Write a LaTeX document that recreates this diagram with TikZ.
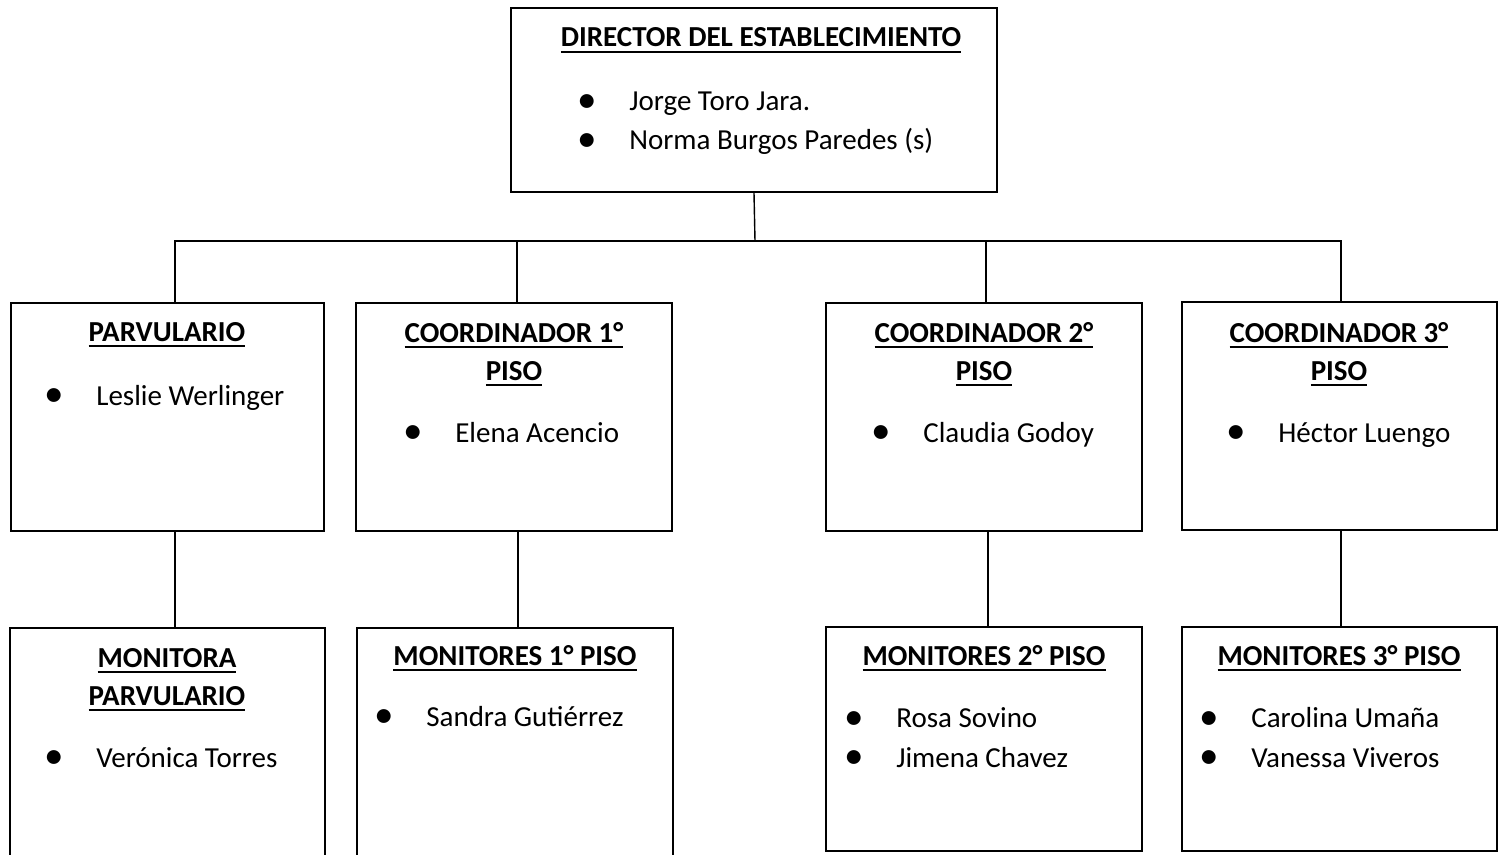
\documentclass[tikz,border=0pt]{standalone}
\usepackage{fontspec}
\usepackage{graphicx}
\setmainfont{Carlito}
\usetikzlibrary{fit,calc}
\newsavebox{\cajatxt}
\newcommand{\subr}[1]{\sbox{\cajatxt}{#1}\rlap{\rule[-3.4pt]{\wd\cajatxt}{1pt}}\usebox{\cajatxt}}
\newcommand{\pers}[1]{\makebox[0.96cm][l]{\hspace{-0.08cm}\raisebox{-1.1pt}{\scalebox{1.35}{\textbullet}}}#1}
\tikzset{
  caja/.style={draw, line width=1.3pt, inner sep=0pt},
  titulo/.style={font=\bfseries\fontsize{16.5}{21.5}\selectfont, align=center, anchor=base, inner sep=0pt},
  lista/.style={font=\fontsize{16.5}{22.7}\selectfont, align=left, anchor=base west, inner sep=0pt},
  linea/.style={line width=0.8pt}
}
\begin{document}
\begin{tikzpicture}[x=0.02cm, y=-0.02cm]
	\useasboundingbox (0,0) rectangle (1504,855);
	\clip (0,0) rectangle (1504,855);
	\node[caja, fit={(511,8) (997,192)}] (dir) {};
	\node[caja, fit={(11,303) (324,531)}] (parv) {};
	\node[caja, fit={(356,303) (672,531)}] (coord1) {};
	\node[caja, fit={(826,303) (1142,531)}] (coord2) {};
	\node[caja, fit={(1182,302) (1497,530)}] (coord3) {};
	\node[caja, fit={(10,628) (325,875)}] (monparv) {};
	\node[caja, fit={(357,628) (673,875)}] (mon1) {};
	\node[caja, fit={(826,627) (1142,851)}] (mon2) {};
	\node[caja, fit={(1182,627) (1497,851)}] (mon3) {};
	\coordinate (bus) at (755,241);
	\draw[linea] (dir.south) -- (bus);
	\draw[linea] ([xshift=0.15cm]parv.north) |- (bus);
	\draw[linea] ([xshift=0.06cm]coord1.north) |- (bus);
	\draw[linea] ([xshift=0.04cm]coord2.north) |- (bus);
	\draw[linea] ([xshift=0.03cm]coord3.north) |- (bus);
	\draw[linea] ([xshift=0.15cm]parv.south) -- ([xshift=0.15cm]monparv.north);
	\draw[linea] ([xshift=0.08cm]coord1.south) -- ([xshift=0.06cm]mon1.north);
	\draw[linea] ([xshift=0.08cm]coord2.south) -- ([xshift=0.08cm]mon2.north);
	\draw[linea] ([xshift=0.03cm]coord3.south) -- ([xshift=0.03cm]mon3.north);
	\node[titulo] (tdir) at (761,47) {\subr{DIRECTOR DEL ESTABLECIMIENTO}};
	\node[titulo] (tparv) at (167,341) {\subr{PARVULARIO}};
	\node[titulo] (tcoord1) at (514,380) {\subr{COORDINADOR 1°}\\\subr{PISO}};
	\node[titulo] (tcoord2) at (984,380) {\subr{COORDINADOR 2°}\\\subr{PISO}};
	\node[titulo] (tcoord3) at (1339,380) {\subr{COORDINADOR 3°}\\\subr{PISO}};
	\node[titulo] (tmonparv) at (167,705) {\subr{MONITORA}\\\subr{PARVULARIO}};
	\node[titulo] (tmon1) at (515,665) {\subr{MONITORES 1° PISO}};
	\node[titulo] (tmon2) at (984,665) {\subr{MONITORES 2° PISO}};
	\node[titulo] (tmon3) at (1339,665) {\subr{MONITORES 3° PISO}};
	\node[lista] (ldir) at (581,150) {\pers{Jorge Toro Jara.}\\\pers{Norma Burgos Paredes (s)}};
	\node[lista] (lparv) at (48,405) {\pers{Leslie Werlinger}};
	\node[lista] (lcoord1) at (407,442) {\pers{Elena Acencio}};
	\node[lista] (lcoord2) at (875,442) {\pers{Claudia Godoy}};
	\node[lista] (lcoord3) at (1230,442) {\pers{Héctor Luengo}};
	\node[lista] (lmonparv) at (48,767) {\pers{Verónica Torres}};
	\node[lista] (lmon1) at (378,726) {\pers{Sandra Gutiérrez}};
	\node[lista] (lmon2) at (848,767) {\pers{Rosa Sovino}\\\pers{Jimena Chavez}};
	\node[lista] (lmon3) at (1203,767) {\pers{Carolina Umaña}\\\pers{Vanessa Viveros}};
\end{tikzpicture}
\end{document}
